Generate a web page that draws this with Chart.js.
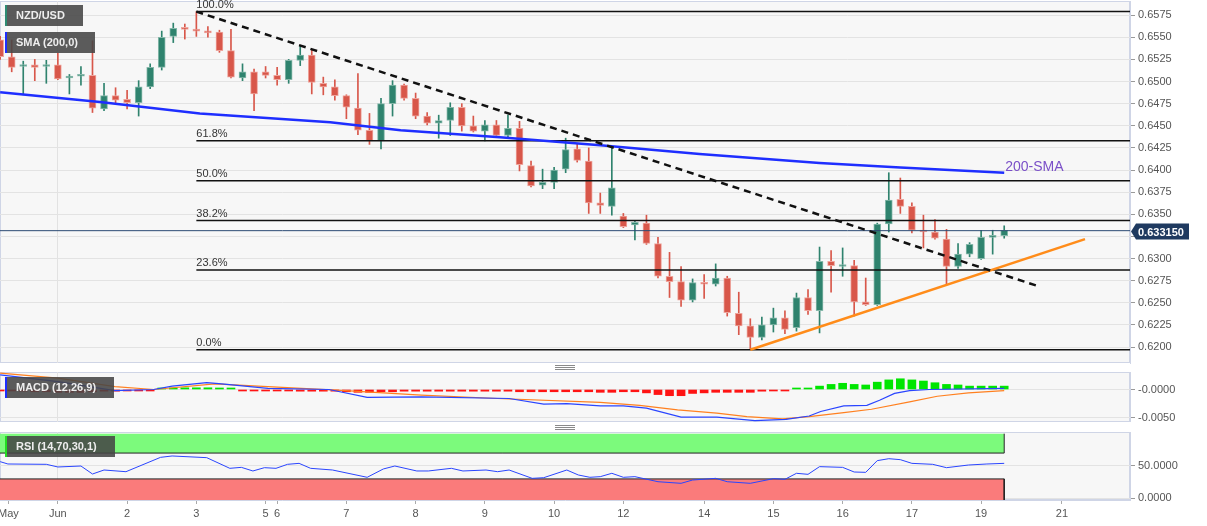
<!DOCTYPE html>
<html>
<head>
<meta charset="utf-8">
<script src="https://cdn.jsdelivr.net/npm/chart.js@4.4.0/dist/chart.umd.min.js"></script>
<style>
  body { margin: 0; background: #fff; font-family: "Liberation Sans", Arial, sans-serif; }
  #wrap { position: relative; width: 1207px; height: 526px; overflow: hidden; }
  canvas { position: absolute; left: 0; }
  .tag { position: absolute; left: 5px; height: 21px; line-height: 21px; padding-left: 9px;
         background: rgba(70,70,70,0.88); color: #eee; font-weight: bold; font-size: 11px;
         border-left: 2px solid; box-sizing: border-box; white-space: nowrap; }
  .grip { position: absolute; left: 555px; width: 20px; height: 3px;
          border-top: 1px solid #8a8a8a; border-bottom: 1px solid #8a8a8a; }
  .grip:after { content: ''; position: absolute; left: 0; right: 0; top: 1px; border-top: 1px solid #8a8a8a; }
</style>
</head>
<body>
<div id="wrap">
  <canvas id="main" width="1207" height="364" style="top:0"></canvas>
  <canvas id="macd" width="1207" height="50" style="top:372px"></canvas>
  <canvas id="rsi" width="1207" height="94" style="top:432px"></canvas>
  <div class="tag" style="top:5px;width:78px;border-color:#2e8b72">NZD/USD</div>
  <div class="tag" style="top:32px;width:90px;border-color:#1e2eff">SMA (200,0)</div>
  <div class="tag" style="top:377px;width:109px;border-color:#1e2eff">MACD (12,26,9)</div>
  <div class="tag" style="top:436px;width:110px;border-color:#22dd22">RSI (14,70,30,1)</div>
  <div class="grip" style="top:365px"></div>
  <div class="grip" style="top:425px"></div>
</div>
<script>
var FONT = '"Liberation Sans", Arial, sans-serif';

// 4h candles, index 0..87
var openP  = [.6547,.6528,.6517,.6519,.6517,.6519,.6504,.6506,.6507,.6469,.6484,.6480,.6476,.6494,.6516,.6551,.6560,.6559,.6556,.6556,
              .6535,.6504,.6511,.6511,.6507,.6502,.6524,.6530,.6498,.6494,.6484,.6470,.6445,.6433,.6475,.6496,.6481,.6461,.6453,.6456,
              .6471,.6450,.6444,.6451,.6439,.6447,.6405,.6383,.6386,.6401,.6424,.6410,.6363,.6359,.6348,.6338,.6340,.6317,.6280,.6274,
              .6253,.6273,.6271,.6278,.6238,.6224,.6211,.6225,.6233,.6222,.6256,.6241,.6297,.6291,.6292,.6251,.6248,.6339,.6367,.6359,
              .6332,.6330,.6322,.6291,.6305,.6300,.6324,.6326];
var highP  = [.6551,.6547,.6523,.6525,.6524,.6532,.6508,.6517,.6546,.6498,.6493,.6490,.6501,.6520,.6557,.6566,.6565,.6579,.6562,.6558,
              .6559,.6520,.6514,.6517,.6516,.6525,.6540,.6536,.6505,.6502,.6485,.6509,.6464,.6481,.6501,.6497,.6487,.6465,.6462,.6476,
              .6475,.6461,.6456,.6456,.6462,.6455,.6410,.6401,.6403,.6436,.6430,.6425,.6374,.6427,.6351,.6343,.6349,.6324,.6307,.6291,
              .6277,.6282,.6294,.6280,.6262,.6232,.6234,.6244,.6241,.6261,.6265,.6313,.6309,.6312,.6298,.6278,.6340,.6397,.6391,.6363,
              .6349,.6344,.6333,.6317,.6318,.6332,.6332,.6337];
var lowP   = [.6525,.6511,.6485,.6501,.6498,.6502,.6486,.6496,.6465,.6467,.6476,.6469,.6461,.6492,.6513,.6544,.6548,.6551,.6550,.6533,
              .6504,.6501,.6467,.6504,.6496,.6498,.6518,.6486,.6485,.6479,.6458,.6440,.6429,.6424,.6461,.6479,.6458,.6451,.6436,.6439,
              .6444,.6443,.6433,.6439,.6436,.6399,.6381,.6379,.6379,.6397,.6409,.6351,.6351,.6349,.6335,.6321,.6316,.6278,.6256,.6246,
              .6251,.6255,.6269,.6235,.6214,.6197,.6208,.6217,.6215,.6218,.6237,.6216,.6262,.6280,.6235,.6247,.6247,.6330,.6351,.6329,
              .6312,.6322,.6271,.6289,.6302,.6299,.6305,.6323];
var closeP = [.6528,.6516,.6519,.6516,.6519,.6503,.6506,.6508,.6470,.6484,.6479,.6476,.6494,.6516,.6550,.6560,.6559,.6557,.6555,.6535,
              .6505,.6511,.6486,.6507,.6502,.6524,.6530,.6499,.6494,.6484,.6471,.6445,.6433,.6475,.6496,.6481,.6461,.6453,.6456,.6471,
              .6450,.6444,.6451,.6439,.6447,.6406,.6382,.6386,.6400,.6423,.6411,.6363,.6360,.6380,.6336,.6341,.6317,.6280,.6274,.6253,
              .6273,.6271,.6278,.6239,.6224,.6211,.6225,.6233,.6220,.6256,.6241,.6297,.6292,.6292,.6251,.6248,.6339,.6366,.6359,.6332,
              .6330,.6323,.6291,.6305,.6316,.6324,.6325,.6332];

// x axis day labels (candle index where each day starts)
var dayAt     = [0.72, 5, 11, 17, 23, 24, 30, 36, 42, 48, 54, 61, 67, 73, 79, 85, 92];
var dayLabels = ['May','Jun','2','3','5','6','7','8','9','10','12','14','15','16','17','19','21'];

var priceTicks = [.6200,.6225,.6250,.6275,.6300,.6325,.6350,.6375,.6400,.6425,.6450,.6475,.6500,.6525,.6550,.6575];
var lastPrice = 0.63315;

// 200 SMA
var smaAt  = [0, 8.65, 17.3, 28.6, 34.7, 43.3, 52, 60.6, 71, 78, 87];
var smaVal = [.6488, .6477, .6464, .6454, .6445, .6437, .6428, .6418, .6408, .6403, .6397];

// trend lines
var downAt = [17, 89.9], downVal = [.6579, .6269];
var upAt = [65, 94], upVal = [.6197, .6322];

// fibonacci retracement
var fibLow = .6197, fibHigh = .6579, fibFrom = 17;
var fibLevels = [0, 0.236, 0.382, 0.5, 0.618, 1];
var fibLabels = ['0.0%', '23.6%', '38.2%', '50.0%', '61.8%', '100.0%'];

// MACD
var macdHist = [-.0002,-.0002,-.0003,-.0004,-.0004,-.0005,-.0005,-.0005,-.0004,-.0003,-.0003,-.0002,-.0001,-.00005,.0001,.0002,.0003,.0003,.0003,.0002,
                .00005,-.00005,-.0001,-.0002,-.0002,-.0002,-.0003,-.0003,-.0003,-.0003,-.0004,-.0005,-.0005,-.0004,-.0004,-.0003,-.0003,-.0003,-.0003,-.0003,
                -.0003,-.0003,-.0003,-.0003,-.0003,-.0004,-.0004,-.0004,-.0004,-.0004,-.0004,-.0004,-.0005,-.0005,-.0004,-.0004,-.0006,-.0009,-.0011,-.0011,
                -.0007,-.0006,-.0005,-.0005,-.0005,-.0005,-.0003,-.0002,-.0001,.0001,.0002,.0006,.0009,.0011,.0009,.0008,.0013,.0017,.0019,.0017,
                .0015,.0012,.0009,.0008,.0006,.0006,.0006,.0006];
var macdAt  = [0, 5, 9.95, 13.3, 14.9, 17.9, 19.2, 23.2, 28.5, 31.8, 36.5, 44.1, 47.1, 49.1, 52, 54, 56, 59, 62.1, 65.4, 68.1, 70.1, 71.1, 73.1, 75.1, 76.2, 77.5, 78.8, 80.5, 87];
var macdVal = [.0026, .0014, -.0002, .0000, .0006, .0012, .0010, .0002, .0000, -.0014, -.0013, -.0016, -.0026, -.0025, -.0029, -.0029, -.0033, -.0049, -.0049, -.0055,
               -.0053, -.0047, -.0039, -.0029, -.0028, -.0019, -.0007, -.0002, .0000, .0002];
var signalAt  = [0, 5, 9.95, 13.3, 18.6, 23.2, 29.9, 36.5, 43.1, 52, 55.4, 58.7, 62.1, 64.7, 67.8, 70.1, 73.1, 75.5, 78.8, 81.2, 83.9, 87];
var signalVal = [.0029, .0020, .0005, .0000, .0010, .0005, -.0002, -.0010, -.0016, -.0023, -.0028, -.0036, -.0042, -.0048, -.0052, -.0048, -.0041, -.0035, -.0022, -.0012,
                 -.0006, -.0002];
var macdTicks = [-0.005, 0], macdTickLabels = ['-0.0050', '-0.0000'];

// RSI
var rsiAt  = [0, 0.67, 4, 5, 7, 8, 9, 10.9, 13.9, 14.9, 17.9, 19.9, 20.9, 21.9, 22.9, 23.9, 24.9, 25.9, 26.9, 28.8, 31.8, 33.2, 34.2, 36.1, 37.1, 39.1, 40.1, 42.1, 43.1, 44.1,
              46.1, 47.1, 49.1, 50.1, 51.1, 52, 53, 54, 55, 57, 59, 60, 62, 63, 65, 67, 68, 69, 70, 71, 73, 74, 75, 76, 77, 78, 79, 80.8, 82, 83.9, 85.5, 87];
var rsiVal = [56.7, 53.1, 52.6, 48.5, 50, 37.6, 43.8, 41.2, 63.4, 65.5, 62.9, 46.4, 47.9, 42.3, 47.4, 46.4, 52.6, 54.1, 46.4, 43.8, 32.5, 45.4, 50, 42.3, 42.3, 46.4, 42.3, 43.8, 41.2, 43.8,
              30.9, 31.9, 43.8, 36.1, 32.5, 33.5, 38.7, 32.5, 33.5, 25.7, 23.2, 28.3, 30.9, 25.7, 23.2, 30.4, 29.4, 38.7, 37.1, 49, 47.9, 40.7, 40.2, 58.3, 61.3, 59.8, 54.1, 52.6, 47.4, 51.5,
              53.1, 54.1];
var rsiUpper = 70, rsiLower = 30, rsiTop = 100;
var rsiTicks = [0, 50], rsiTickLabels = ['0.0000', '50.0000'];

var GREEN = '#2f836e', GREEN_EDGE = '#86b8aa', RED = '#d8574a', RED_EDGE = '#eea59d';
var xMin = -0.014, xMax = 97.9;
var lastIdx = openP.length - 1;

function pts(xs, ys) { return xs.map(function (x, k) { return { x: x, y: ys[k] }; }); }
function fibPrice(lv) { return fibLow + (fibHigh - fibLow) * lv; }
function noPad(s) { s.paddingLeft = 0; s.paddingRight = 0; s.paddingTop = 0; s.paddingBottom = 0; }

function xAxis(showLabels) {
  return {
    type: 'linear', min: xMin, max: xMax, offset: false,
    afterBuildTicks: function (s) { s.ticks = dayAt.map(function (v) { return { value: v }; }); },
    afterFit: function (s) { noPad(s); s.height = showLabels ? 26 : 0; },
    ticks: { display: showLabels, autoSkip: false, maxRotation: 0, padding: 3, color: '#555',
             font: { size: 11, family: FONT }, callback: function (v, k) { return dayLabels[k]; } },
    grid: { offset: false, drawTicks: showLabels, tickLength: 4, tickColor: '#aaa',
            color: function (c) { return dayLabels[c.index] === 'Jun' ? '#e2e2e2' : 'rgba(0,0,0,0)'; } },
    border: { display: showLabels, color: '#cfd5e6' }
  };
}

function yAxis(min, max, tickVals, tickText) {
  return {
    type: 'linear', position: 'right', min: min, max: max,
    afterBuildTicks: function (s) { s.ticks = tickVals.map(function (v) { return { value: v }; }); },
    afterFit: function (s) { noPad(s); s.width = 77; },
    ticks: { color: '#555', padding: 3, font: { size: 11, family: FONT },
             callback: function (v, k) { return tickText[k]; } },
    grid: { color: '#e3e3e3', tickLength: 5, tickColor: '#999' },
    border: { color: '#cfd5e6' }
  };
}

var panelBg = {
  id: 'panelBg',
  beforeDraw: function (chart) {
    var a = chart.chartArea, ctx = chart.ctx;
    ctx.save();
    ctx.fillStyle = '#f7f7f7';
    ctx.fillRect(a.left, a.top, a.right - a.left, a.bottom - a.top);
    ctx.strokeStyle = '#cfd5e6';
    ctx.lineWidth = 1;
    ctx.strokeRect(a.left + 0.5, a.top + 0.5, a.right - a.left - 1, a.bottom - a.top - 1);
    ctx.restore();
  }
};

var mainLabels = {
  id: 'mainLabels',
  afterDraw: function (chart) {
    var x = chart.scales.x, y = chart.scales.y, ctx = chart.ctx;
    ctx.save();
    // fib level names
    ctx.font = '11px ' + FONT;
    ctx.fillStyle = '#333';
    ctx.textBaseline = 'bottom';
    fibLevels.forEach(function (lv, k) {
      ctx.fillText(fibLabels[k], x.getPixelForValue(fibFrom), y.getPixelForValue(fibPrice(lv)) - 1);
    });
    // 200-SMA note
    var n = smaAt.length - 1;
    ctx.font = '14px ' + FONT;
    ctx.fillStyle = '#7a4fc8';
    ctx.textBaseline = 'middle';
    ctx.fillText('200-SMA', x.getPixelForValue(smaAt[n]) + 1, y.getPixelForValue(smaVal[n]) - 6);
    // last price tag
    var py = Math.round(y.getPixelForValue(lastPrice)) + 0.5;
    var tx = chart.chartArea.right + 2;
    ctx.fillStyle = '#1f3a60';
    ctx.beginPath();
    ctx.moveTo(tx - 1, py);
    ctx.lineTo(tx + 4, py - 8);
    ctx.lineTo(tx + 57, py - 8);
    ctx.lineTo(tx + 57, py + 8);
    ctx.lineTo(tx + 4, py + 8);
    ctx.closePath();
    ctx.fill();
    ctx.fillStyle = '#fff';
    ctx.font = 'bold 11px ' + FONT;
    ctx.fillText(lastPrice.toFixed(6), tx + 6, py + 1);
    ctx.restore();
  }
};

var base = {
  responsive: false, animation: false, devicePixelRatio: 1, events: [],
  plugins: { legend: { display: false }, tooltip: { enabled: false } }
};
function opts(extra) { return Object.assign({}, base, extra); }

var idx = openP.map(function (v, i) { return i; });
var up = idx.map(function (i) { return closeP[i] >= openP[i]; });

var mainSets = [
  { type: 'bar', data: idx.map(function (i) { return { x: i, y: [lowP[i], highP[i]] }; }),
    backgroundColor: up.map(function (u) { return u ? GREEN : RED; }), barThickness: 1, grouped: false, order: 10 },
  { type: 'bar', data: idx.map(function (i) { return { x: i, y: [openP[i], closeP[i]] }; }),
    backgroundColor: up.map(function (u) { return u ? GREEN : RED; }),
    borderColor: up.map(function (u) { return u ? GREEN_EDGE : RED_EDGE; }),
    borderWidth: 1, borderSkipped: false, barThickness: 7, minBarLength: 2, grouped: false, order: 9 }
];
fibLevels.forEach(function (lv) {
  mainSets.push({ type: 'line', data: pts([fibFrom, xMax], [fibPrice(lv), fibPrice(lv)]),
    borderColor: '#111', borderWidth: 1.5, pointRadius: 0, order: 8 });
});
mainSets.push({ type: 'line', data: pts([xMin, xMax], [lastPrice, lastPrice]),
  borderColor: '#2b4a73', borderWidth: 1, pointRadius: 0, order: 7 });
mainSets.push({ type: 'line', data: pts(smaAt, smaVal), borderColor: '#1e2eff', borderWidth: 2.5, pointRadius: 0, order: 3 });
mainSets.push({ type: 'line', data: pts(downAt, downVal), borderColor: '#111', borderWidth: 2.5, borderDash: [7, 5], pointRadius: 0, order: 2 });
mainSets.push({ type: 'line', data: pts(upAt, upVal), borderColor: '#ff8c1a', borderWidth: 2.5, pointRadius: 0, order: 2 });

new Chart(document.getElementById('main'), {
  type: 'bar',
  data: { datasets: mainSets },
  options: opts({
    layout: { padding: { top: 1, bottom: 1, left: 0, right: 0 } },
    scales: {
      x: xAxis(false),
      y: yAxis(0.6182, 0.6591, priceTicks, priceTicks.map(function (v) { return v.toFixed(4); }))
    }
  }),
  plugins: [panelBg, mainLabels]
});

new Chart(document.getElementById('macd'), {
  type: 'bar',
  data: { datasets: [
    { type: 'bar', data: idx.map(function (i) { return { x: i, y: macdHist[i] }; }),
      backgroundColor: macdHist.map(function (v) { return v >= 0 ? '#00e600' : '#ff1414'; }),
      barThickness: 8, minBarLength: 1.5, grouped: false, order: 5 },
    { type: 'line', data: pts(signalAt, signalVal), borderColor: '#ff8020', borderWidth: 1.2, pointRadius: 0, order: 2 },
    { type: 'line', data: pts(macdAt, macdVal), borderColor: '#2a45ff', borderWidth: 1.2, pointRadius: 0, order: 1 }
  ] },
  options: opts({
    layout: { padding: 0 },
    scales: { x: xAxis(false), y: yAxis(-0.00576, 0.0031, macdTicks, macdTickLabels) }
  }),
  plugins: [panelBg]
});

new Chart(document.getElementById('rsi'), {
  type: 'line',
  data: { datasets: [
    { data: pts([xMin, lastIdx], [rsiTop, rsiTop]), fill: { value: rsiUpper }, backgroundColor: '#7cfa7c',
      borderWidth: 0, pointRadius: 0, order: 5 },
    { data: pts([xMin, lastIdx], [rsiLower, rsiLower]), fill: 'start', backgroundColor: '#fa7b7b',
      borderWidth: 0, pointRadius: 0, order: 5 },
    { data: pts([xMin, lastIdx, lastIdx], [rsiUpper, rsiUpper, rsiTop]), borderColor: '#222', borderWidth: 1, pointRadius: 0, fill: false, order: 4 },
    { data: pts([xMin, lastIdx, lastIdx], [rsiLower, rsiLower, -3]), borderColor: '#222', borderWidth: 1, pointRadius: 0, fill: false, order: 4 },
    { data: pts(rsiAt, rsiVal), borderColor: '#2a45ff', borderWidth: 1, pointRadius: 0, fill: false, order: 1 }
  ] },
  options: opts({
    layout: { padding: 0 },
    scales: { x: xAxis(true), y: yAxis(-2.6, 102.6, rsiTicks, rsiTickLabels) }
  }),
  plugins: [panelBg]
});
</script>
</body>
</html>
